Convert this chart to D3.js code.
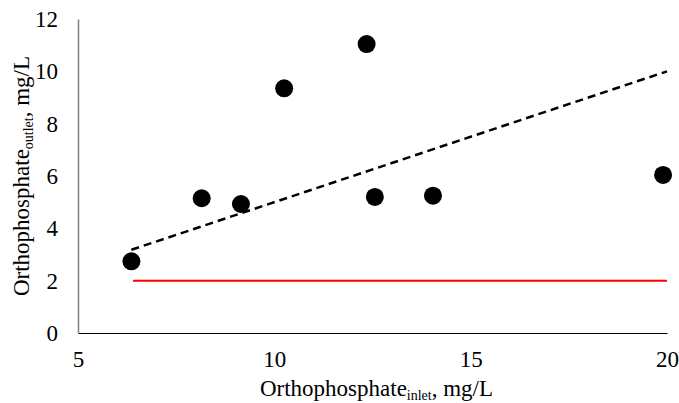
<!DOCTYPE html>
<html lang="en">
<head>
<meta charset="UTF-8">
<script src="https://d3js.org/d3.v7.min.js"></script>
<style>
  body { margin: 0; background: white; }
</style>
</head>
<body>
<div id="chart"></div>
<script>
// observed points
const inletX = [6.36, 8.15, 9.15, 10.25, 12.35, 12.56, 14.04, 19.9];
const outletY = [2.74, 5.15, 4.93, 9.35, 11.04, 5.2, 5.25, 6.04];
// dashed trend line end points
const trendX = [6.36, 20];
const trendY = [3.18, 10];
// red limit line
const limitX = [6.4, 20];
const limitY = [2, 2];
const xTicks = [5, 10, 15, 20];
const yTicks = [0, 2, 4, 6, 8, 10, 12];

const FONT = "'Liberation Serif', 'Times New Roman', serif";
const W = 679, H = 403;
const margin = { top: 19, right: 12, bottom: 70, left: 78 };
const width = W - margin.left - margin.right;
const height = H - margin.top - margin.bottom;

const svg = d3.select("#chart").append("svg")
  .attr("width", W).attr("height", H);

const x = d3.scaleLinear().domain([5, 20]).range([0, width]);
const y = d3.scaleLinear().domain([0, 12]).range([height, 0]);

const g = svg.append("g")
  .attr("transform", "translate(" + margin.left + "," + margin.top + ")");

// axes (no tick marks, labels only)
const xAxis = g.append("g")
  .attr("transform", "translate(0," + height + ")")
  .call(d3.axisBottom(x).tickValues(xTicks).tickSize(0).tickPadding(17.5));
xAxis.attr("font-family", null);
xAxis.select(".domain").attr("stroke", "#000").attr("stroke-width", 1.2);
xAxis.selectAll("text").style("font-family", FONT).style("font-size", "23px").attr("fill", "#000");

const yAxis = g.append("g")
  .call(d3.axisLeft(y).tickValues(yTicks).tickSize(0).tickPadding(20));
yAxis.attr("font-family", null);
yAxis.select(".domain").attr("stroke", "#7f7f7f").attr("stroke-width", 1.5);
yAxis.selectAll("text").style("font-family", FONT).style("font-size", "23px").attr("fill", "#000");

// red line
const line = d3.line().x(d => x(d[0])).y(d => y(d[1]));
g.append("path")
  .datum(d3.zip(limitX, limitY))
  .attr("fill", "none")
  .attr("stroke", "#ff0000")
  .attr("stroke-width", 2)
  .attr("d", line);

// trend line
g.append("path")
  .datum(d3.zip(trendX, trendY))
  .attr("fill", "none")
  .attr("stroke", "#000")
  .attr("stroke-width", 2.5)
  .attr("stroke-dasharray", "8,5")
  .attr("d", line);

// points
g.selectAll("circle")
  .data(d3.zip(inletX, outletY))
  .join("circle")
  .attr("cx", d => x(d[0]))
  .attr("cy", d => y(d[1]))
  .attr("r", 9)
  .attr("fill", "#000");

// axis titles
const xt = svg.append("text")
  .attr("x", margin.left + width / 2 + 4).attr("y", 396)
  .attr("text-anchor", "middle")
  .style("font-family", FONT)
  .style("font-size", "23px");
xt.append("tspan").text("Orthophosphate");
xt.append("tspan").attr("dy", 3.5).style("font-size", "14px").text("inlet");
xt.append("tspan").attr("dy", -3.5).text(", mg/L");

const yt = svg.append("text")
  .attr("transform", "translate(29," + (margin.top + height / 2) + ") rotate(-90)")
  .attr("text-anchor", "middle")
  .style("font-family", FONT)
  .style("font-size", "23px");
yt.append("tspan").text("Orthophosphate");
yt.append("tspan").attr("dy", 3.5).style("font-size", "14px").text("outlet");
yt.append("tspan").attr("dy", -3.5).text(", mg/L");
</script>
</body>
</html>
